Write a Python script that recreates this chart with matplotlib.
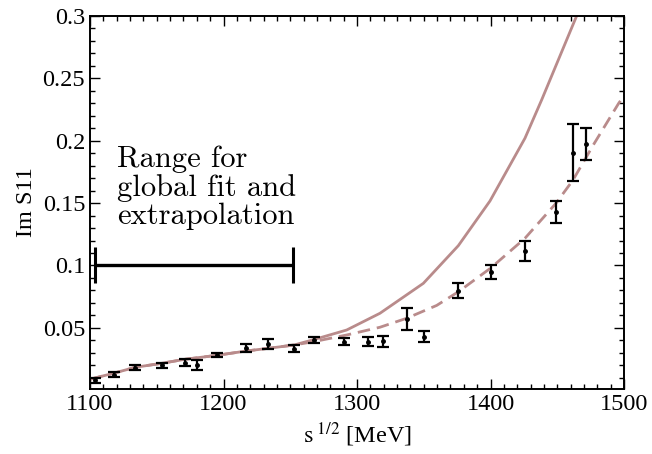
import numpy as np
import matplotlib.pyplot as plt
from matplotlib.ticker import MultipleLocator

# measured Im S11 points with errors
sqrt_s = [1103.7, 1118, 1133.7, 1153.7, 1171, 1180.3, 1195, 1217, 1233.5, 1253,
          1268, 1290, 1308, 1319.7, 1337.3, 1350, 1376, 1400.2, 1425.8, 1449,
          1461.8, 1471.8]
im_s11 = [0.0082, 0.0125, 0.018, 0.020, 0.0221, 0.020, 0.0283, 0.0336, 0.0371, 0.0331,
          0.0403, 0.039, 0.039, 0.0392, 0.0571, 0.0429, 0.0798, 0.0948, 0.1119, 0.1427,
          0.1905, 0.1974]
im_err = [0.002, 0.002, 0.0019, 0.0021, 0.003, 0.004, 0.0019, 0.0032, 0.0037, 0.0028,
          0.0025, 0.003, 0.0035, 0.0042, 0.009, 0.0042, 0.0061, 0.006, 0.008, 0.009,
          0.0227, 0.0128]

# global fit (solid) and extrapolation (dashed)
fit_x = [1100, 1117.5, 1134, 1153.7, 1171, 1195, 1217.4, 1233.5, 1253, 1267.3,
         1292.3, 1317.2, 1349.7, 1375.9, 1399.6, 1425.8, 1438.3, 1464.5]
fit_y = [0.0088, 0.0136, 0.0184, 0.0216, 0.0248, 0.028, 0.0315, 0.0336, 0.0363, 0.0405,
         0.0483, 0.0617, 0.0857, 0.1159, 0.1517, 0.202, 0.2327, 0.3]
extr_x = [1100, 1117.5, 1134, 1153.7, 1171, 1195, 1217.4, 1233.5, 1253, 1267.3,
          1292.3, 1317.2, 1337.2, 1359.7, 1376, 1400.2, 1425.8, 1449, 1461.8, 1477,
          1496, 1500]
extr_y = [0.0088, 0.0136, 0.0184, 0.0216, 0.0248, 0.028, 0.0315, 0.0336, 0.0363, 0.0389,
          0.0443, 0.0505, 0.0577, 0.068, 0.079, 0.098, 0.1218, 0.1498, 0.1685, 0.1966,
          0.230, 0.236]

fit_range = [1103.7, 1252]

plt.rcParams['mathtext.fontset'] = 'stix'
plt.rcParams['font.family'] = 'Liberation Serif'

fig = plt.figure(figsize=(6.52, 4.54), dpi=100)
ax = fig.add_axes([90 / 652, 1 - 389 / 454, 534 / 652, 373 / 454])

col = '#b98b8b'
ax.plot(fit_x, fit_y, color=col, lw=2.0)
ax.plot(extr_x, extr_y, color=col, lw=2.0, dashes=(4.5, 2.5))
ax.errorbar(sqrt_s, im_s11, yerr=im_err, fmt='o', ms=2.5, color='black',
            elinewidth=1.6, capsize=4, capthick=1.6)

mid = (fit_range[0] + fit_range[1]) / 2
half = (fit_range[1] - fit_range[0]) / 2
ax.errorbar([mid], [0.1], xerr=[half], fmt='none', color='black',
            elinewidth=2.4, capsize=13, capthick=2.2)

ax.text(1120, 0.196, 'Range for\nglobal fit and\nextrapolation', fontfamily='cmr10',
        fontsize=22, va='top', ha='left', linespacing=1.04)

ax.set_xlim(1100, 1500)
ax.set_ylim(0.001, 0.3)
ax.set_xticks([1100, 1200, 1300, 1400, 1500])
ax.set_yticks([0.05, 0.1, 0.15, 0.2, 0.25, 0.3])
ax.set_yticklabels(['0.05', '0.1', '0.15', '0.2', '0.25', '0.3'])
ax.xaxis.set_minor_locator(MultipleLocator(10))
ax.yaxis.set_minor_locator(MultipleLocator(0.01))
ax.tick_params(which='both', direction='in', top=True, right=True, labelsize=17.5, width=1.0)
ax.tick_params(which='major', length=7)
ax.tick_params(which='minor', length=3.5)
for sp in ax.spines.values():
    sp.set_linewidth(1.4)

ax.set_xlabel(r'$\mathrm{s}^{\ 1/2}$ [MeV]', fontsize=17.5, labelpad=4)
ax.set_ylabel('Im S11', fontsize=17.5, labelpad=4)

fig.savefig('out.png', dpi=100)
